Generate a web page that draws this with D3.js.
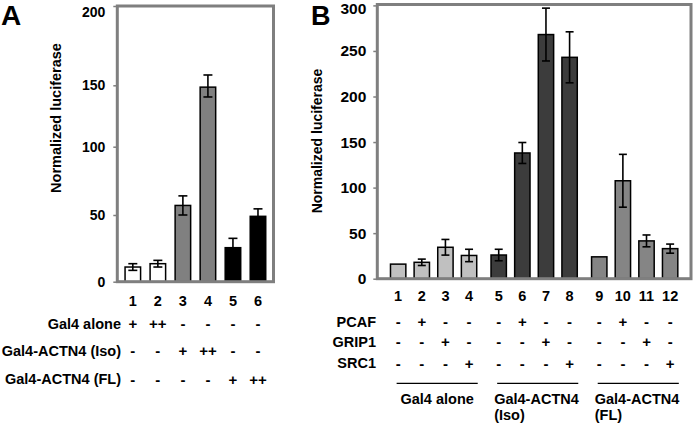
<!DOCTYPE html>
<html><head><meta charset="utf-8">
<script src="https://cdn.jsdelivr.net/npm/d3@7"></script>
<style>
html,body{margin:0;padding:0;background:#fff;}
text{font-family:"Liberation Sans",Arial,Helvetica,sans-serif;font-weight:bold;fill:#000;}
</style></head>
<body>
<svg id="chart" width="693" height="423"></svg>
<script>
// ---------- Data: panel A ----------
const catsA = ["1","2","3","4","5","6"];
const valsA = [11, 13.5, 57, 148.5, 25.5, 49];
const errA  = [2.5, 2.5, 7, 8, 7, 5.5];
const colorsA = ["#ffffff","#ffffff","#808080","#808080","#000000","#000000"];
const ticksA = [0, 50, 100, 150, 200];
const rowLabelsA = ["Gal4 alone","Gal4-ACTN4 (Iso)","Gal4-ACTN4 (FL)"];
const rowsA = [
  ["+","++","-","-","-","-"],
  ["-","-","+","++","-","-"],
  ["-","-","-","-","+","++"]
];
// ---------- Data: panel B ----------
const catsB = ["1","2","3","4","5","6","7","8","9","10","11","12"];
const groupOfB = [0,0,0,0,1,1,1,1,2,2,2,2];
const groupsB = ["Gal4 alone","Gal4-ACTN4 (Iso)","Gal4-ACTN4 (FL)"];
const groupLabelLinesB = [["Gal4 alone"],["Gal4-ACTN4","(Iso)"],["Gal4-ACTN4","(FL)"]];
const valsB = [16, 18, 34.5, 25.5, 26, 138, 268, 243, 24, 107.5, 41.5, 33];
const errB  = [0, 3.5, 8.6, 6.8, 6.3, 11.5, 29, 28, 0, 29, 6.5, 5];
const groupColorsB = ["#c0c0c0","#3c3c3c","#858585"];
const ticksB = [0, 50, 100, 150, 200, 250, 300];
const rowLabelsB = ["PCAF","GRIP1","SRC1"];
const rowsB = [
  ["-","+","-","-","-","+","-","-","-","+","-","-"],
  ["-","-","+","-","-","-","+","-","-","-","+","-"],
  ["-","-","-","+","-","-","-","+","-","-","-","+"]
];

const svg = d3.select("#chart");
const frameColor = "#7f7f7f";

// ================= PANEL A =================
const A = {left:117.3, right:273.5, top:6, bottom:281.7};
const yA = d3.scaleLinear().domain(ticksA).range([281.7, 215, 146.7, 85.3, 6]);
const xA = d3.scaleBand().domain(catsA).range([A.left, A.right]).paddingInner(0.38).paddingOuter(0.31);
const gA = svg.append("g");

gA.append("text").attr("x", 1).attr("y", 25).attr("font-size", 28).text("A");

// y ticks
const axA = gA.append("g").attr("transform", `translate(${A.left},0)`)
  .call(d3.axisLeft(yA).tickValues(ticksA).tickSize(4).tickPadding(8).tickFormat(d3.format("d")));
axA.select(".domain").remove();
axA.selectAll("line").attr("stroke", frameColor).attr("stroke-width", 1.5);
axA.selectAll("text").attr("font-size", 14).attr("font-family", "Liberation Sans, Arial, sans-serif").attr("font-weight","bold").attr("fill","#000");
axA.selectAll(".tick").filter(d => d === ticksA[ticksA.length-1]).select("text").attr("dy", "0.75em");

gA.append("text").attr("transform", `translate(61,118) rotate(-90)`).attr("text-anchor","middle")
  .attr("font-size", 14.5).text("Normalized luciferase");

// bars
gA.selectAll("rect.bar").data(valsA).join("rect")
  .attr("x", (d,i) => xA(catsA[i])).attr("width", xA.bandwidth())
  .attr("y", d => yA(d)).attr("height", d => yA(0) - yA(d))
  .attr("fill", (d,i) => colorsA[i]).attr("stroke", "#000").attr("stroke-width", 1.5);

// error bars
const capA = 4.5;
valsA.forEach((v,i) => {
  const cx = xA(catsA[i]) + xA.bandwidth()/2;
  const e = errA[i];
  if (!e) return;
  const g = gA.append("g").attr("stroke","#000").attr("stroke-width",1.6);
  g.append("line").attr("x1",cx).attr("x2",cx).attr("y1",yA(v+e)).attr("y2",yA(v-e));
  g.append("line").attr("x1",cx-capA).attr("x2",cx+capA).attr("y1",yA(v+e)).attr("y2",yA(v+e));
  g.append("line").attr("x1",cx-capA).attr("x2",cx+capA).attr("y1",yA(v-e)).attr("y2",yA(v-e));
});

// frame
gA.append("rect").attr("x", A.left).attr("y", A.top).attr("width", A.right-A.left).attr("height", A.bottom-A.top)
  .attr("fill","none").attr("stroke", frameColor).attr("stroke-width", 3);

// category numbers
gA.selectAll("text.num").data(catsA).join("text")
  .attr("x", d => xA(d) + xA.bandwidth()/2).attr("y", 300.7).attr("dy","0.35em")
  .attr("text-anchor","middle").attr("font-size", 14.5).text(d => d);

const rowYA = [324, 351, 379.3];
rowLabelsA.forEach((lab, r) => {
  gA.append("text").attr("x", 121).attr("y", rowYA[r]).attr("dy","0.35em")
    .attr("text-anchor","end").attr("font-size", 14.5).text(lab);
  gA.selectAll(null).data(rowsA[r]).join("text")
    .attr("x", (d,i) => xA(catsA[i]) + xA.bandwidth()/2).attr("y", rowYA[r]).attr("dy","0.35em")
    .attr("text-anchor","middle").attr("font-size", 15).text(d => d);
});

// ================= PANEL B =================
const B = {left:377.3, right:691, top:4.5, bottom:278.7};
const yB = d3.scaleLinear().domain([0, 300]).range([278.7, 5.4]);
const xGroupB = d3.scaleBand().domain(groupsB).range([B.left, B.right]).paddingInner(0.06).paddingOuter(0.09);
const innerB = d3.scaleBand().domain([0,1,2,3]).range([0, xGroupB.bandwidth()]).paddingInner(0.35).paddingOuter(0.175);
const xB = i => xGroupB(groupsB[groupOfB[i]]) + innerB(i % 4);
const bwB = innerB.bandwidth();
const gB = svg.append("g");

gB.append("text").attr("x", 311).attr("y", 24.5).attr("font-size", 27).text("B");

const axB = gB.append("g").attr("transform", `translate(${B.left},0)`)
  .call(d3.axisLeft(yB).tickValues(ticksB).tickSize(4).tickPadding(7).tickFormat(d3.format("d")));
axB.select(".domain").remove();
axB.selectAll("line").attr("stroke", frameColor).attr("stroke-width", 1.5);
axB.selectAll("text").attr("font-size", 15.5).attr("font-family", "Liberation Sans, Arial, sans-serif").attr("font-weight","bold").attr("fill","#000");
axB.selectAll(".tick").filter(d => d === ticksB[ticksB.length-1]).select("text").attr("dy", "0.55em");

gB.append("text").attr("transform", `translate(322,141) rotate(-90)`).attr("text-anchor","middle")
  .attr("font-size", 14).text("Normalized luciferase");

gB.selectAll("rect.bar").data(valsB).join("rect")
  .attr("x", (d,i) => xB(i)).attr("width", bwB)
  .attr("y", d => yB(d)).attr("height", d => yB(0) - yB(d))
  .attr("fill", (d,i) => groupColorsB[groupOfB[i]]).attr("stroke", "#000").attr("stroke-width", 1.5);

const capB = 4;
valsB.forEach((v,i) => {
  const e = errB[i];
  if (!e) return;
  const cx = xB(i) + bwB/2;
  const g = gB.append("g").attr("stroke","#000").attr("stroke-width",1.6);
  g.append("line").attr("x1",cx).attr("x2",cx).attr("y1",yB(v+e)).attr("y2",yB(v-e));
  g.append("line").attr("x1",cx-capB).attr("x2",cx+capB).attr("y1",yB(v+e)).attr("y2",yB(v+e));
  g.append("line").attr("x1",cx-capB).attr("x2",cx+capB).attr("y1",yB(v-e)).attr("y2",yB(v-e));
});

gB.append("rect").attr("x", B.left).attr("y", B.top).attr("width", B.right-B.left).attr("height", B.bottom-B.top)
  .attr("fill","none").attr("stroke", frameColor).attr("stroke-width", 3);

gB.selectAll("text.num").data(catsB).join("text")
  .attr("x", (d,i) => xB(i) + bwB/2).attr("y", 296).attr("dy","0.35em")
  .attr("text-anchor","middle").attr("font-size", 14.5).text(d => d);

const rowYB = [321.7, 342, 363.3];
rowLabelsB.forEach((lab, r) => {
  gB.append("text").attr("x", 376).attr("y", rowYB[r]).attr("dy","0.35em")
    .attr("text-anchor","end").attr("font-size", 14.5).text(lab);
  gB.selectAll(null).data(rowsB[r]).join("text")
    .attr("x", (d,i) => xB(i) + bwB/2).attr("y", rowYB[r]).attr("dy","0.35em")
    .attr("text-anchor","middle").attr("font-size", 15).text(d => d);
});

// group underlines and labels
groupsB.forEach((gname, gi) => {
  const idx = groupOfB.map((g,i) => g === gi ? i : -1).filter(i => i >= 0);
  const x1 = xB(idx[0]) + bwB*0.4;
  const x2 = xB(idx[idx.length-1]) + bwB + 1;
  gB.append("line").attr("x1", x1).attr("x2", x2).attr("y1", 383.3).attr("y2", 383.3)
    .attr("stroke","#000").attr("stroke-width",1.2);
  const lines = groupLabelLinesB[gi];
  const t = gB.append("text").attr("font-size", 14.5);
  if (lines.length === 1) {
    t.attr("x", (x1+x2)/2).attr("y", 399.3).attr("dy","0.35em").attr("text-anchor","middle").text(lines[0]);
  } else {
    lines.forEach((ln, k) => {
      t.append("tspan").attr("x", x1 - 3).attr("y", 399.3 + k*15.7).attr("dy","0.35em").text(ln);
    });
  }
});
</script>
</body></html>
